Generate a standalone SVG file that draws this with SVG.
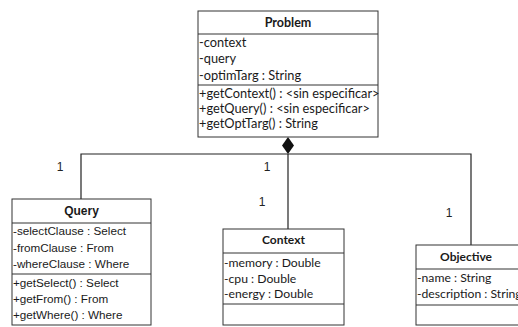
<svg xmlns="http://www.w3.org/2000/svg" width="518" height="327" viewBox="0 0 518 327">
<style>
.box{fill:#fff;stroke:#333;stroke-width:1}
.sep{stroke:#333;stroke-width:1}
.c{font-family:Lato,"Liberation Sans",sans-serif;fill:#1a1a1a}
.a{font-family:"Liberation Sans",Arial,sans-serif;fill:#1a1a1a}
.t{font-weight:bold;text-anchor:middle}
.conn{fill:none;stroke:#222;stroke-width:1.2}
.lbl{font-family:"Liberation Sans",Arial,sans-serif;font-size:12px;fill:#222;text-anchor:middle}
</style>
<rect width="518" height="327" fill="#fff"/>
<g id="connectors">
<path class="conn" d="M81,199 V154 H471 V245"/>
<path class="conn" d="M288,154 V229"/>
<polygon points="288,137 294,145.5 288,154 282,145.5" fill="#111"/>
<text class="lbl" x="60" y="171">1</text>
<text class="lbl" x="267" y="171">1</text>
<text class="lbl" x="262" y="206">1</text>
<text class="lbl" x="449" y="217">1</text>
</g>
<g id="Problem">
<rect class="box" x="198" y="11" width="180" height="126"/>
<line class="sep" x1="198" y1="34" x2="378" y2="34"/>
<line class="sep" x1="198" y1="85" x2="378" y2="85"/>
<text class="c t" x="288" y="27" font-size="12.5">Problem</text>
<g class="c" font-size="12.8">
<text x="199" y="47">-context</text>
<text x="199" y="63">-query</text>
<text x="199" y="80">-optimTarg : String</text>
<text x="199" y="98">+getContext() : &lt;sin especificar&gt;</text>
<text x="199" y="113">+getQuery() : &lt;sin especificar&gt;</text>
<text x="199" y="128">+getOptTarg() : String</text>
</g>
</g>
<g id="Query">
<rect class="box" x="12" y="199" width="139" height="126"/>
<line class="sep" x1="12" y1="223" x2="151" y2="223"/>
<line class="sep" x1="12" y1="274" x2="151" y2="274"/>
<text class="a t" x="81.5" y="215" font-size="12">Query</text>
<g class="a" font-size="11.7">
<text x="13" y="235">-selectClause : Select</text>
<text x="13" y="251.5">-fromClause : From</text>
<text x="13" y="267.5">-whereClause : Where</text>
<text x="13" y="287">+getSelect() : Select</text>
<text x="13" y="303">+getFrom() : From</text>
<text x="13" y="318.5">+getWhere() : Where</text>
</g>
</g>
<g id="Context">
<rect class="box" x="223" y="229" width="121" height="96"/>
<line class="sep" x1="223" y1="253" x2="344" y2="253"/>
<line class="sep" x1="223" y1="304" x2="344" y2="304"/>
<text class="c t" x="283.5" y="244" font-size="12">Context</text>
<g class="c" font-size="12.2">
<text x="224" y="267">-memory : Double</text>
<text x="224" y="282.5">-cpu : Double</text>
<text x="224" y="298">-energy : Double</text>
</g>
</g>
<g id="Objective">
<rect class="box" x="416" y="245" width="110" height="80"/>
<line class="sep" x1="416" y1="269" x2="526" y2="269"/>
<line class="sep" x1="416" y1="305" x2="526" y2="305"/>
<text class="c t" x="466" y="261" font-size="12">Objective</text>
<g class="c" font-size="12.2">
<text x="417" y="282">-name : String</text>
<text x="417" y="298">-description : String</text>
</g>
</g>
</svg>
